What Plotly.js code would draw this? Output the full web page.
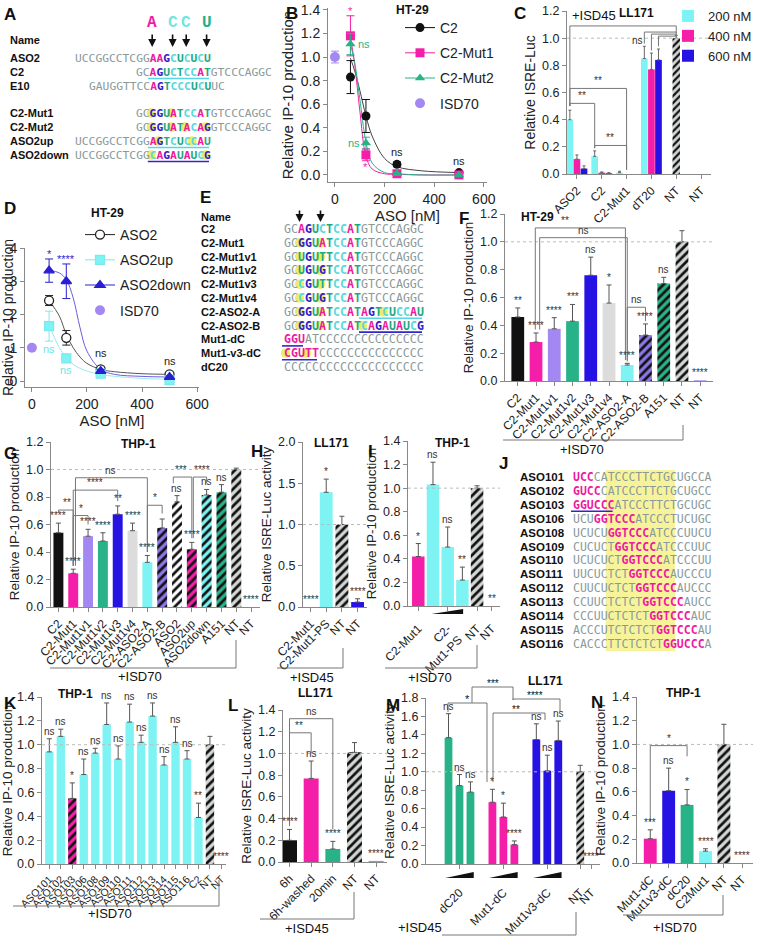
<!DOCTYPE html>
<html>
<head>
<meta charset="utf-8">
<script src="https://cdn.plot.ly/plotly-3.0.1.min.js"></script>
<style>body{margin:0;background:#fff}#fig{width:757px;height:937px}</style>
</head>
<body>
<div id="fig"></div>
<script>
const W = 757, H = 937

// ---------- data ----------
// B: HT-29, C2 / mutants dose response
const bDose = [62.5, 125, 250, 500]
const bC2 = [0.83, 0.50, 0.09, 0.02]
const bC2Err = [0.14, 0.14, 0.02, 0.01]
const bMut1 = [1.18, 0.17, 0.01, 0.0]
const bMut1Err = [0.17, 0.05, 0.01, 0.01]
const bMut2 = [1.11, 0.27, 0.01, 0.0]
const bMut2Err = [0.09, 0.05, 0.01, 0.01]
const bIsd = [1.0]
const bIsdErr = [0.05]
const bFitDose = [62.5, 80, 100, 125, 150, 200, 250, 350, 500]
const bFitC2 = [0.99, 0.88, 0.72, 0.50, 0.33, 0.14, 0.07, 0.035, 0.02]
const bFitMut1 = [1.17, 0.93, 0.55, 0.16, 0.05, 0.01, 0.005, 0, 0]
const bFitMut2 = [1.11, 0.95, 0.65, 0.28, 0.10, 0.02, 0.01, 0, 0]

// C: LL171 ISRE-Luc
const cCats = ['ASO2', 'C2', 'C2-Mut1', 'dT20', 'NT', 'NT']
const c200 = [0.40, 0.13, 0.01, 0.85, null, null]
const c200Err = [0.07, 0.04, 0.01, 0.09, 0, 0]
const c400 = [0.11, 0.01, 0.0, 0.77, null, null]
const c400Err = [0.03, 0.005, 0, 0.12, 0, 0]
const c600 = [0.04, 0.005, 0.0, 0.84, null, null]
const c600Err = [0.02, 0.005, 0, 0.08, 0, 0]
const cNT = [null, null, null, null, 1.0, 0.0]
const cNTErr = [0, 0, 0, 0, 0.02, 0]

// D: HT-29, ASO2 variants
const dDose = [62.5, 125, 250, 500]
const dAso2 = [2.42, 1.30, 0.35, 0.20]
const dAso2Err = [0.15, 0.22, 0.06, 0.03]
const dUp = [1.65, 0.68, 0.22, 0.03]
const dUpErr = [0.45, 0.12, 0.03, 0.02]
const dDown = [3.32, 3.0, 0.30, 0.12]
const dDownErr = [0.35, 0.52, 0.05, 0.03]
const dIsd = [1.0]
const dFitDose = [62.5, 100, 125, 150, 175, 200, 250, 300, 400, 500]
const dFitDown = [3.33, 3.25, 3.05, 2.5, 1.6, 0.9, 0.35, 0.2, 0.14, 0.12]
const dFitAso2 = [2.42, 1.95, 1.4, 1.0, 0.72, 0.53, 0.35, 0.28, 0.22, 0.20]
const dFitUp = [1.68, 1.0, 0.72, 0.5, 0.38, 0.3, 0.2, 0.14, 0.08, 0.05]

// F: HT-29 bars
const fCats = ['C2', 'C2-Mut1', 'C2-Mut1v1', 'C2-Mut1v2', 'C2-Mut1v3', 'C2-Mut1v4', 'C2-ASO2-A', 'C2-ASO2-B', 'A151', 'NT', 'NT']
const fVals = [0.46, 0.28, 0.375, 0.43, 0.76, 0.56, 0.115, 0.33, 0.70, 1.0, 0.005]
const fErr = [0.065, 0.065, 0.08, 0.12, 0.13, 0.13, 0.012, 0.08, 0.045, 0.08, 0]
const fSig = ['**', '****', '****', '***', 'ns', '*', '****', '****', 'ns', '', '****']

// G: THP-1 bars
const gCats = ['C2', 'C2-Mut1', 'C2-Mut1v1', 'C2-Mut1v2', 'C2-Mut1v3', 'C2-Mut1v4', 'C2-ASO2-A', 'C2-ASO2-B', 'ASO2', 'ASO2up', 'ASO2down', 'A151', 'NT', 'NT']
const gVals = [0.54, 0.245, 0.515, 0.48, 0.675, 0.555, 0.325, 0.575, 0.765, 0.42, 0.815, 0.835, 1.0, 0.0]
const gErr = [0.07, 0.03, 0.05, 0.06, 0.06, 0.055, 0.05, 0.065, 0.045, 0.05, 0.04, 0.055, 0.01, 0]
const gSig = ['****', '****', '****', '****', '**', '****', '****', '', 'ns', '****', 'ns', 'ns', '', '****']

// H: LL171
const hCats = ['C2-Mut1', 'C2-Mut1-PS', 'NT', 'NT']
const hVals = [0.0, 1.39, 1.0, 0.06]
const hErr = [0, 0.16, 0.1, 0.04]
const hSig = ['****', '*', '', '****']

// I: THP-1, C2-Mut1-PS dose
const iLabels = ['C2-Mut1', 'C2-<br>Mut1-PS', 'NT', 'NT']
const iVals = [0.42, 1.03, 0.50, 0.22, 1.0, 0.0]
const iErr = [0.11, 0.19, 0.17, 0.11, 0.02, 0]
const iSig = ['*', 'ns', 'ns', '**', '', '**']

// K: THP-1, ASO1xx walk
const kCats = ['ASO101', 'ASO102', 'ASO103', 'ASO106', 'ASO108', 'ASO109', 'ASO110', 'ASO111', 'ASO112', 'ASO113', 'ASO114', 'ASO115', 'ASO116', 'C2', 'NT', 'NT']
const kVals = [0.94, 1.07, 0.55, 0.75, 0.93, 1.17, 0.88, 1.19, 1.02, 1.24, 0.83, 1.02, 0.88, 0.39, 1.0, 0.0]
const kErr = [0.11, 0.06, 0.13, 0.13, 0.04, 0.18, 0.11, 0.15, 0.06, 0.11, 0.07, 0.13, 0.07, 0.12, 0.07, 0]
const kSig = ['ns', 'ns', '*', 'ns', 'ns', 'ns', 'ns', 'ns', 'ns', 'ns', 'ns', 'ns', 'ns', '**', '', '****']

// L: LL171 timing
const lCats = ['6h', '6h-washed', '20min', 'NT', 'NT']
const lVals = [0.20, 0.77, 0.12, 1.01, 0.01]
const lErr = [0.1, 0.16, 0.07, 0.09, 0]
const lSig = ['****', 'ns', '****', '', '****']

// M: LL171, three doses per ASO
const mGroups = ['dC20', 'Mut1-dC', 'Mut1v3-dC']
const mDC20 = [1.37, 0.85, 0.78]
const mDC20Err = [0.26, 0.12, 0.11]
const mMut1dC = [0.67, 0.51, 0.21]
const mMut1dCErr = [0.14, 0.15, 0.04]
const mV3dC = [1.35, 1.01, 1.34]
const mV3dCErr = [0.17, 0.17, 0.21]
const mNT = [1.0, 0.0]
const mNTErr = [0.07, 0]
const mSig = [['ns', 'ns', 'ns'], ['*', '*', '****'], ['ns', 'ns', 'ns']]
const mNTSig = ['', '****']

// N: THP-1
const nCats = ['Mut1-dC', 'Mut1v3-dC', 'dC20', 'C2Mut1', 'NT', 'NT']
const nVals = [0.205, 0.61, 0.49, 0.10, 1.0, 0.0]
const nErr = [0.075, 0.19, 0.13, 0.02, 0.17, 0]
const nSig = ['***', 'ns', '*', '****', '', '****']

// sequences
const aNames = ['ASO2', 'C2', 'E10', 'C2-Mut1', 'C2-Mut2', 'ASO2up', 'ASO2down']
const aSeqs = ['UCCGGCCTCGGAAGCUCUCU', 'GCAGUCTCCATGTCCCAGGC', 'GAUGGTTCCAGTCCCUCUUC', 'GCGGUATCCATGTCCCAGGC', 'GCGGUATACAGGTCCCAGGC', 'UCCGGCCTCGGAGTCUCCAU', 'UCCGGCCTCGGCAGAUAUCG']
const eNames = ['C2', 'C2-Mut1', 'C2-Mut1v1', 'C2-Mut1v2', 'C2-Mut1v3', 'C2-Mut1v4', 'C2-ASO2-A', 'C2-ASO2-B', 'Mut1-dC', 'Mut1-v3-dC', 'dC20']
const eSeqs = ['GCAGUCTCCATGTCCCAGGC', 'GCGGUATCCATGTCCCAGGC', 'GCUGUTTCCATGTCCCAGGC', 'GCUGUGTCCATGTCCCAGGC', 'GCCGUTTCCATGTCCCAGGC', 'GCCGUGTCCATGTCCCAGGC', 'GCGGUATCCATAGTCUCCAU', 'GCGGUATCCATCAGAUAUCG', 'GGUATCCCCCCCCCCCCCCC', 'CGUTTCCCCCCCCCCCCCCC', 'CCCCCCCCCCCCCCCCCCCC']
const jNames = ['ASO101', 'ASO102', 'ASO103', 'ASO106', 'ASO108', 'ASO109', 'ASO110', 'ASO111', 'ASO112', 'ASO113', 'ASO114', 'ASO115', 'ASO116']
const jSeqs = ['UCCCATCCCTTCTGCUGCCA', 'GUCCCATCCCTTCTGCUGCC', 'GGUCCCATCCCTTCTGCUGC', 'UCUGGTCCCATCCCTUCUGC', 'UCUCUGGTCCCATCCCUUCU', 'CUCUCTGGTCCCATCCCUUC', 'UCUCUCTGGTCCCATCCCUU', 'UUCUCTCTGGTCCCAUCCCU', 'CUUCUCTCTGGTCCCAUCCC', 'CCUUCTCTCTGGTCCCAUCC', 'CCCUUCTCTCTGGTCCCAUC', 'ACCCUTCTCTCTGGTCCCAU', 'CACCCTTCTCTCTGGUCCCA']
const jPink = [[0, 3], [0, 4], [0, 6], [3, 9], [5, 11], [6, 12], [7, 13], [8, 14], [9, 15], [10, 16], [11, 17], [12, 18], [13, 19]]

// ---------- styles ----------
const MAG = '#f41ea8', CYAN = '#7ef3f3', BLUE = '#2612e2', GREEN = '#28b288', LAV = '#a488f2'
const LGREY = '#dcdcdc', PURP = '#8c76e8', BLACK = '#111111', NTG = '#d3d7d4'
const SEQC = {g: '#8a9a9a', m: '#ef1a9f', b: '#3220c4', c: '#5ad8dc', t: '#1fa982'}
const FONT = 'Liberation Sans, Arial, sans-serif'
const MONO = 'DejaVu Sans Mono, monospace'

const traces = [], shapes = [], annotations = []
const px = x => x / W
const py = y => 1 - y / H
const xdom = (a, b) => [a / W, b / W]
const ydom = (top, bot) => [1 - bot / H, 1 - top / H]
const xn = n => n === 1 ? 'x' : 'x' + n
const yn = n => n === 1 ? 'y' : 'y' + n
const pathPx = pts => 'M' + pts.map(p => px(p[0]) + ',' + py(p[1])).join(' L')

function ptext(text, x, y, size, o) {
    annotations.push(Object.assign({xref: 'paper', yref: 'paper', x: px(x), y: py(y), text: text, showarrow: false,
        xanchor: 'left', yanchor: 'middle', font: {size: size, color: '#111', family: FONT}}, o || {}))
}
function letter(t, x, y) { ptext('<b>' + t + '</b>', x, y, 17, {yanchor: 'top'}) }
function title(t, x, y) { ptext('<b>' + t + '</b>', x, y, 12, {xanchor: 'center'}) }

function errBar(errs, color, width) {
    return {type: 'data', symmetric: false, array: errs.map(e => e > 0 ? e : NaN),
        arrayminus: errs.map(e => e > 0 ? 0 : NaN), color: color || '#555', thickness: 1, width: width || 2.5}
}

function sigLabel(n, x, y, s, size, color) {
    if (!s) return
    annotations.push({xref: xn(n), yref: yn(n), x: x, y: y, text: s, showarrow: false, yanchor: 'bottom',
        font: {size: size || 10, color: color || '#333', family: FONT}})
}

// plain bars in one trace, hatched bars one trace each (scalar colour keeps black stripes)
function bars(n, vals, errs, colors, hatch, sig, width) {
    const idx = vals.map((v, i) => i)
    traces.push({type: 'bar', xaxis: xn(n), yaxis: yn(n), x: idx, y: vals.map((v, i) => hatch[i] ? null : v),
        width: width, showlegend: false, marker: {color: colors, line: {width: 0}},
        error_y: errBar(errs.map((e, i) => hatch[i] ? 0 : e))})
    hatch.forEach((h, i) => {
        if (!h) return
        traces.push({type: 'bar', xaxis: xn(n), yaxis: yn(n), x: [i], y: [vals[i]], width: width, showlegend: false,
            marker: {color: colors[i], line: {width: 0},
                pattern: {shape: h, fgcolor: '#111', bgcolor: colors[i], size: 6, solidity: 0.45}},
            error_y: errBar([errs[i]])})
    })
    sig.forEach((s, i) => sigLabel(n, i, vals[i] + errs[i], s))
}

function bracket(n, x0, x1, y, y0, y1, label, lx) {
    shapes.push({type: 'path', xref: xn(n), yref: yn(n), path: `M${x0},${y0} V${y} H${x1} V${y1}`,
        line: {color: '#777', width: 1}})
    if (label) sigLabel(n, lx === undefined ? (x0 + x1) / 2 : lx, y, label)
}

function refLine(n) {
    shapes.push({type: 'line', xref: xn(n) + ' domain', yref: yn(n), x0: 0, x1: 1, y0: 1, y1: 1,
        line: {color: '#bbb', width: 1, dash: 'dot'}})
}

function isd(text, tx, ty, ly, x0, x1, vtop) {
    shapes.push({type: 'path', xref: 'paper', yref: 'paper', path: pathPx([[x0, ly], [x1, ly], [x1, vtop]]),
        line: {color: '#777', width: 1}})
    ptext(text, tx, ty, 13, {xanchor: 'center'})
}

const AX = {showline: true, linecolor: '#888', linewidth: 1, ticks: 'outside', ticklen: 4, tickwidth: 1,
    tickcolor: '#888', showgrid: false, zeroline: false, fixedrange: true}

function yaxis(n, top, bot, range, dtick, ttl, tsz, fsz, fmt) {
    return Object.assign({}, AX, {domain: ydom(top, bot), range: range, tick0: 0, dtick: dtick, anchor: xn(n),
        tickformat: fmt === undefined ? '.1f' : fmt, tickfont: {size: tsz, color: '#222'},
        title: {text: ttl, font: {size: fsz, color: '#222'}, standoff: 3}})
}
function catAxis(n, a, b, range, labels, tsz, vals, extra) {
    return Object.assign({}, AX, {domain: xdom(a, b), range: range, anchor: yn(n), tickmode: 'array',
        tickvals: vals || labels.map((c, i) => i), ticktext: labels, tickangle: -45,
        tickfont: {size: tsz, color: '#222'}}, extra || {})
}

function seqHtml(seq, col) {
    let out = '', i = 0
    while (i < seq.length) {
        let j = i
        while (j < seq.length && col[j] === col[i]) j++
        const t = seq.slice(i, j)
        out += `<span style="color:${SEQC[col[i]]}">${col[i] === 'g' ? t : '<b>' + t + '</b>'}</span>`
        i = j
    }
    return out
}
function seqRow(x0, cw, y, seq, col, hl, ul) {
    (hl || []).forEach(i => {
        const cx = x0 + (i + 0.5) * cw
        shapes.push({type: 'circle', xref: 'paper', yref: 'paper', layer: 'below',
            x0: px(cx - 4.6), x1: px(cx + 4.6), y0: py(y + 4.8), y1: py(y - 4.8),
            fillcolor: '#e9e94a', opacity: 0.85, line: {width: 0}})
    })
    if (ul) {
        shapes.push({type: 'line', xref: 'paper', yref: 'paper', x0: px(x0 + ul[1] * cw), x1: px(x0 + (ul[2] + 1) * cw),
            y0: py(y + 6.5), y1: py(y + 6.5), line: {color: ul[0] === 'b' ? '#3424cc' : '#55d6e6', width: 1.6}})
    }
    ptext(seqHtml(seq, col), x0, y, cw / 0.602, {font: {size: cw / 0.602, family: MONO, color: SEQC.g}})
}

// ---------- A ----------
letter('A', 2, 3)
ptext('<b>Name</b>', 8, 40, 11)
const aStart = [0, 9, 2, 9, 9, 0, 0]
const aRowY = [58, 72, 86, 113, 127, 141, 155]
const aCols = ['gggggggggggmmbctctct', 'ggmbtctccmtggggggggg', 'gggggggggmbtccctctgg', 'ggbbtmtccmtggggggggg',
    'ggbbtmtmcmbggggggggg', 'gggggggggggmbtctccmt', 'gggggggggggcmbmtmtcb']
const aHl = [[], [], [], [2, 5], [2, 5, 7, 10], [12, 17], [11, 19]]
const aUl = [null, ['c', 2, 10], null, null, null, ['c', 11, 19], ['b', 11, 19]]
const aX0 = 73, aCw = 6.8
aNames.forEach((nm, i) => {
    ptext('<b>' + nm + '</b>', 8, aRowY[i], 11)
    seqRow(aX0 + aStart[i] * aCw, aCw, aRowY[i], aSeqs[i], aCols[i], aHl[i], aUl[i])
})
const aTop = [['A', 11, 'm'], ['C', 14, 'c'], ['C', 16, 'c'], ['U', 19, 't']]
aTop.forEach(t => {
    const cx = aX0 + (t[1] + 0.5) * aCw + 1
    ptext('<b>' + t[0] + '</b>', cx, 23, 16, {xanchor: 'center', font: {size: 16, family: 'Liberation Mono, monospace', color: t[2] === 'm' ? '#f21aa6' : (t[2] === 'c' ? '#6ee6e6' : '#22b088')}})
    annotations.push({xref: 'paper', yref: 'paper', x: px(cx), y: py(47), ax: 0, ay: -14, text: '', showarrow: true,
        arrowhead: 2, arrowsize: 1, arrowwidth: 1.6, arrowcolor: '#111'})
})

// ---------- B ----------
letter('B', 284, 2)
title('HT-29', 412, 10)
const bSpec = [
    ['C2', bC2, bC2Err, bFitC2, BLACK, 'circle', '#444'],
    ['C2-Mut1', bMut1, bMut1Err, bFitMut1, MAG, 'square', MAG],
    ['C2-Mut2', bMut2, bMut2Err, bFitMut2, GREEN, 'triangle-up', GREEN]
]
bSpec.forEach(s => {
    traces.push({type: 'scatter', mode: 'lines', x: bFitDose, y: s[3], xaxis: 'x', yaxis: 'y', showlegend: false,
        line: {color: s[6], width: 1, shape: 'spline', smoothing: 1}})
})
bSpec.forEach(s => {
    traces.push({type: 'scatter', mode: 'markers', x: bDose, y: s[1], xaxis: 'x', yaxis: 'y', showlegend: false,
        marker: {color: s[4], symbol: s[5], size: 9},
        error_y: {type: 'data', array: s[2], color: s[4], thickness: 1, width: 4}})
    traces.push({type: 'scatter', mode: 'lines+markers', x: [null], y: [null], xaxis: 'x', yaxis: 'y', name: s[0],
        legend: 'legend', legendgroup: 'b' + s[0], marker: {color: s[4], symbol: s[5], size: 9}, line: {color: s[4], width: 1}})
})
traces.push({type: 'scatter', mode: 'markers', x: [0], y: bIsd, xaxis: 'x', yaxis: 'y', name: 'ISD70',
    legend: 'legend', legendgroup: 'bISD', marker: {color: LAV, size: 10},
    error_y: {type: 'data', array: bIsdErr, color: LAV, thickness: 1, width: 4}})
const bNote = (x, y, t, c, o) => annotations.push(Object.assign({xref: 'x', yref: 'y', x: x, y: y, text: t, showarrow: false,
    font: {size: 11, color: c, family: FONT}}, o))
bNote(bDose[0], bMut1[0] + bMut1Err[0], '*', MAG, {yanchor: 'bottom', yshift: -3})
bNote(bDose[0], bMut2[0], 'ns', GREEN, {xanchor: 'left', xshift: 6})
bNote(bDose[1], bMut2[1], 'ns', GREEN, {xanchor: 'right', xshift: -4})
bNote(bDose[1], bMut1[1] - bMut1Err[1], '*', MAG, {yanchor: 'top', yshift: 2})
bNote(bDose[2], bC2[2] + bC2Err[2], 'ns', '#222', {yanchor: 'bottom', yshift: 2})
bNote(bDose[3], bC2[3] + bC2Err[3], 'ns', '#222', {yanchor: 'bottom', yshift: 2})

// ---------- C ----------
letter('C', 512, 2)
title('LL171', 636, 13)
const cIdx = cCats.map((c, i) => i)
const cSpec = [['200 nM', c200, c200Err, CYAN, -0.42], ['400 nM', c400, c400Err, MAG, -0.135], ['600 nM', c600, c600Err, BLUE, 0.15]]
cSpec.forEach(s => {
    traces.push({type: 'bar', x: cIdx, y: s[1], xaxis: 'x2', yaxis: 'y2', name: s[0], legend: 'legend2',
        offset: s[4], width: 0.27, marker: {color: s[3], line: {width: 0}}, error_y: errBar(s[2], '#666', 1.5)})
})
traces.push({type: 'bar', x: cIdx, y: cNT, xaxis: 'x2', yaxis: 'y2', showlegend: false, offset: -0.15, width: 0.3,
    marker: {color: NTG, line: {width: 0}, pattern: {shape: '/', fgcolor: '#111', bgcolor: NTG, size: 5, solidity: 0.45}},
    error_y: errBar(cNTErr, '#666', 1.5)})
refLine(2)
bracket(2, -0.285, 2, 0.63, 0.5, 0.03, '**', 0.85)
bracket(2, -0.285, 0.715, 0.52, 0.5, 0.19, '**', 0.2)
bracket(2, 0.715, 2, 0.21, 0.19, 0.03, '**', 1.35)
bracket(2, 2.715, 4, 1.045, 0.96, 1.02)
bracket(2, 3.0, 4, 1.03, 0.91, 1.02)
bracket(2, 3.285, 4, 1.015, 0.94, 1.02)
sigLabel(2, 2.45, 0.93, 'ns')
shapes.push({type: 'path', xref: 'x2', yref: 'y2', path: 'M-0.285,0.5 V1.09 H4 V1.04', line: {color: '#777', width: 1}})
annotations.push({xref: 'x2', yref: 'y2', x: -0.27, y: 1.1, text: '+ISD45', showarrow: false, xanchor: 'left',
    yanchor: 'bottom', font: {size: 13, color: '#111', family: FONT}})

// ---------- D ----------
letter('D', 2, 197)
title('HT-29', 107, 213)
const dSpec = [
    ['ASO2', dAso2, dAso2Err, dFitAso2, 'white', 'circle', '#555', '#222'],
    ['ASO2up', dUp, dUpErr, dFitUp, CYAN, 'square', '#9be9ee', '#7fe8ec'],
    ['ASO2down', dDown, dDownErr, dFitDown, '#2a1fd0', 'triangle-up', '#6c5ce0', '#2a1fd0']
]
dSpec.forEach(s => {
    traces.push({type: 'scatter', mode: 'lines', x: dFitDose, y: s[3], xaxis: 'x3', yaxis: 'y3', showlegend: false,
        line: {color: s[6], width: 1, shape: 'spline', smoothing: 1}})
})
dSpec.forEach(s => {
    traces.push({type: 'scatter', mode: 'markers', x: dDose, y: s[1], xaxis: 'x3', yaxis: 'y3', showlegend: false,
        marker: {color: s[4], symbol: s[5], size: 9, line: {color: s[7], width: 1.3}},
        error_y: {type: 'data', array: s[2], color: s[7], thickness: 1, width: 4}})
    traces.push({type: 'scatter', mode: 'lines+markers', x: [null], y: [null], xaxis: 'x3', yaxis: 'y3', name: s[0],
        legend: 'legend3', legendgroup: 'd' + s[0], marker: {color: s[4], symbol: s[5], size: 9, line: {color: s[7], width: 1.3}},
        line: {color: s[7], width: 1}})
})
traces.push({type: 'scatter', mode: 'markers', x: [0], y: dIsd, xaxis: 'x3', yaxis: 'y3', name: 'ISD70',
    legend: 'legend3', legendgroup: 'dISD', marker: {color: LAV, size: 10}})
const dNote = (x, y, t, c, o) => annotations.push(Object.assign({xref: 'x3', yref: 'y3', x: x, y: y, text: t, showarrow: false,
    font: {size: 11, color: c, family: FONT}}, o))
dNote(dDose[0], dDown[0] + dDownErr[0], '*', '#2a1fd0', {yanchor: 'bottom', yshift: -3})
dNote(dDose[1], dDown[1] + dDownErr[1], '****', '#2a1fd0', {yanchor: 'bottom', yshift: -3})
dNote(dDose[0], dUp[0] - dUpErr[0], 'ns', '#6fe3ea', {yanchor: 'top'})
dNote(dDose[1], dUp[1] - dUpErr[1], 'ns', '#6fe3ea', {yanchor: 'top'})
dNote(dDose[2], dAso2[2] + dAso2Err[2], 'ns', '#222', {yanchor: 'bottom', yshift: 6})
dNote(dDose[3], dAso2[3] + dAso2Err[3], 'ns', '#222', {yanchor: 'bottom', yshift: 4})

// ---------- E ----------
letter('E', 198, 186)
ptext('<b>Name</b>', 199, 217, 11)
const eRowY = eNames.map((n, i) => 229 + i * 13.8)
const eCols = ['ggmbtctccmtggggggggg', 'ggbbtmtccmtggggggggg', 'ggtbtttccmtggggggggg', 'ggtbtbtccmtggggggggg',
    'ggcbtttccmtggggggggg', 'ggcbtbtccmtggggggggg', 'ggbbtmtccmtmbtctccmt', 'ggbbtmtccmtcmbmtmtcb',
    'mmmggggggggggggggggg', 'mmmmmggggggggggggggg', 'gggggggggggggggggggg']
const eHl = [[], [2, 5], [2, 5], [2, 5], [2, 5], [2, 5], [2, 5, 14], [2, 5, 11], [], [0, 3], []]
const eUl = [null, null, null, null, null, null, ['c', 11, 19], ['b', 11, 19], ['b', 0, 2], ['b', 0, 4], null]
const eX0 = 282, eCw = 7.0
eNames.forEach((nm, i) => {
    ptext('<b>' + nm + '</b>', 199, eRowY[i], 11)
    seqRow(eX0, eCw, eRowY[i], eSeqs[i], eCols[i], eHl[i], eUl[i])
})
;[2, 5].forEach(i => annotations.push({xref: 'paper', yref: 'paper', x: px(eX0 + (i + 0.5) * eCw), y: py(222), ax: 0, ay: -13,
    text: '', showarrow: true, arrowhead: 2, arrowsize: 1, arrowwidth: 1.6, arrowcolor: '#111'}))

// ---------- F ----------
letter('F', 457, 207)
title('HT-29', 537, 217)
bars(4, fVals, fErr, [BLACK, MAG, LAV, GREEN, BLUE, LGREY, CYAN, PURP, GREEN, NTG, LAV],
    ['', '', '', '', '', '', '', '/', '/', '/', ''], fSig, 0.7)
refLine(4)
bracket(4, 0.96, 5.9, 1.10, 0.37, 0.15, '**', 2.6)
bracket(4, 1.2, 6.0, 1.03, 0.37, 0.15, 'ns', 3.6)
bracket(4, 6, 7, 0.53, 0.14, 0.43, 'ns')
isd('+ISD70', 582, 449, 440, 503, 683, 425)

// ---------- G ----------
letter('G', 2, 442)
title('THP-1', 138, 444)
bars(5, gVals, gErr, [BLACK, MAG, LAV, GREEN, BLUE, LGREY, CYAN, PURP, 'white', MAG, CYAN, GREEN, NTG, LAV],
    ['', '', '', '', '', '', '', '/', '/', '/', '/', '/', '/', ''], gSig, 0.67)
refLine(5)
bracket(5, 0, 1, 0.705, 0.69, 0.3, '**', 0.55)
bracket(5, 1, 2, 0.665, 0.3, 0.6, '*', 1.5)
bracket(5, 1, 4, 0.85, 0.3, 0.77, '****', 2.5)
bracket(5, 1.15, 6, 0.94, 0.3, 0.4, 'ns', 3.5)
bracket(5, 6, 7, 0.74, 0.4, 0.68, '*', 6.5)
bracket(5, 7.75, 9, 0.945, 0.9, 0.5, '***', 8.3)
bracket(5, 9.1, 10, 0.945, 0.5, 0.9, '****', 9.7)
isd('+ISD70', 140, 676, 668, 50, 236, 640)

// ---------- H ----------
letter('H', 249, 440)
title('LL171', 331, 443)
bars(6, hVals, hErr, [CYAN, CYAN, NTG, BLUE], ['', '', '/', ''], hSig, 0.82)
refLine(6)
isd('+ISD45', 312, 677, 668, 277, 343, 648)

// ---------- I ----------
letter('I', 366, 440)
title('THP-1', 453, 443)
bars(7, iVals, iErr, [MAG, CYAN, CYAN, CYAN, NTG, LAV], ['', '', '', '', '/', ''], iSig, 0.85)
refLine(7)
shapes.push({type: 'path', xref: 'x7', yref: 'paper', path: `M0.9,${py(614)} L3.05,${py(614)} L3.05,${py(609)} Z`,
    fillcolor: '#111', line: {width: 0}})
isd('+ISD70', 430, 677, 668, 385, 477, 645)

// ---------- J ----------
letter('J', 497, 452)
const jX0 = 571, jCw = 6.93
shapes.push({type: 'rect', xref: 'paper', yref: 'paper', layer: 'below', x0: px(jX0 + 5 * jCw), x1: px(jX0 + 15 * jCw),
    y0: py(651), y1: py(470), fillcolor: '#f7f39a', line: {width: 0}})
jNames.forEach((nm, i) => {
    const y = 477 + i * 13.9
    ptext('<b>' + nm + '</b>', 518, y, 11.5)
    let col = ''
    for (let k = 0; k < 20; k++) col += (k >= jPink[i][0] && k < jPink[i][1]) ? 'm' : 'g'
    seqRow(jX0, jCw, y, jSeqs[i], col, [], i === 2 ? ['b', 0, 5] : null)
})

// ---------- K ----------
letter('K', 2, 692)
title('THP-1', 75, 694)
const kColors = kCats.map((c, i) => i === 2 ? MAG : (i === 14 ? NTG : (i === 15 ? LAV : CYAN)))
const kHatch = kCats.map((c, i) => (i === 2 || i === 14) ? '/' : '')
bars(8, kVals, kErr, kColors, kHatch, kSig, 0.73)
refLine(8)
isd('+ISD70', 110, 913, 906, 13, 219, 880)

// ---------- L ----------
letter('L', 226, 694)
title('LL171', 315, 693)
bars(9, lVals, lErr, [BLACK, MAG, GREEN, NTG, LAV], ['', '', '', '/', ''], lSig, 0.69)
refLine(9)
bracket(9, 0, 1, 1.19, 0.33, 1.0, '**', 0.45)
bracket(9, 0, 2, 1.32, 1.19, 0.3, 'ns', 1)
isd('+ISD45', 307, 928, 919, 260, 354, 892)

// ---------- M ----------
letter('M', 384, 694)
title('LL171', 545, 681)
const mVals = [mDC20, mMut1dC, mV3dC]
const mErrs = [mDC20Err, mMut1dCErr, mV3dCErr]
const mColors = [GREEN, MAG, BLUE]
mGroups.forEach((g, gi) => {
    const slots = mVals[gi].map((v, d) => gi * 4 + d)
    traces.push({type: 'bar', x: slots, y: mVals[gi], xaxis: 'x10', yaxis: 'y10', width: 0.71, showlegend: false,
        marker: {color: mColors[gi], line: {width: 0}}, error_y: errBar(mErrs[gi])})
    mSig[gi].forEach((s, d) => sigLabel(10, slots[d], mVals[gi][d] + mErrs[gi][d], s))
    shapes.push({type: 'path', xref: 'x10', yref: 'paper',
        path: `M${gi * 4 - 0.3},${py(878)} L${gi * 4 + 2.3},${py(878)} L${gi * 4 + 2.3},${py(872)} Z`,
        fillcolor: '#111', line: {width: 0}})
})
const mNTSlots = mNT.map((v, i) => 12 + i)
traces.push({type: 'bar', x: mNTSlots, y: mNT, xaxis: 'x10', yaxis: 'y10', width: 0.71, showlegend: false,
    marker: {color: NTG, line: {width: 0}, pattern: {shape: '/', fgcolor: '#111', bgcolor: NTG, size: 5, solidity: 0.45}},
    error_y: errBar(mNTErr)})
mNTSig.forEach((s, i) => sigLabel(10, mNTSlots[i], mNT[i] + mNTErr[i], s))
refLine(10)
shapes.push({type: 'path', xref: 'paper', yref: 'paper', path: pathPx([[448, 712], [448, 703], [487, 703], [487, 782]]), line: {color: '#777', width: 1}})
ptext('*', 467, 699, 11, {xanchor: 'center'})
shapes.push({type: 'path', xref: 'paper', yref: 'paper', path: pathPx([[472, 703], [472, 687], [513, 687], [513, 700]]), line: {color: '#777', width: 1}})
ptext('***', 493, 683, 10, {xanchor: 'center'})
shapes.push({type: 'path', xref: 'paper', yref: 'paper', path: pathPx([[513, 700], [513, 699], [560, 699], [560, 712]]), line: {color: '#777', width: 1}})
ptext('****', 535, 695, 10, {xanchor: 'center'})
shapes.push({type: 'path', xref: 'paper', yref: 'paper', path: pathPx([[493, 782], [493, 713], [545, 713], [545, 720]]), line: {color: '#777', width: 1}})
ptext('**', 516, 709, 10, {xanchor: 'center'})
isd('+ISD45', 420, 927, 935, 442, 576, 912)

// ---------- N ----------
letter('N', 589, 691)
title('THP-1', 683, 693)
bars(11, nVals, nErr, [MAG, BLUE, GREEN, CYAN, NTG, LAV], ['', '', '', '', '/', ''], nSig, 0.7)
refLine(11)
bracket(11, 0, 2, 0.99, 0.35, 0.9, '*', 1)
isd('+ISD70', 675, 927, 915, 623, 723, 895)

// ---------- layout ----------
const layout = {
    width: W, height: H, margin: {l: 0, r: 0, t: 0, b: 0}, paper_bgcolor: 'white', plot_bgcolor: 'rgba(0,0,0,0)',
    font: {family: FONT, color: '#222'}, showlegend: true, barmode: 'overlay', shapes: shapes, annotations: annotations,
    xaxis: Object.assign({}, AX, {domain: xdom(328, 487), range: [-28, 613], anchor: 'y', tickvals: [0, 200, 400, 600],
        tickfont: {size: 14}, title: {text: 'ASO [nM]', font: {size: 15}, standoff: 2}}),
    yaxis: yaxis(1, 8, 182, [-0.06, 1.416], 0.2, 'Relative IP-10 production', 14, 15),
    xaxis2: catAxis(2, 567, 711, [-0.4, 5.4], cCats, 12),
    yaxis2: yaxis(2, 11, 174, [0, 1.2], 0.2, 'Relative ISRE-Luc', 12.5, 14),
    xaxis3: Object.assign({}, AX, {domain: xdom(25, 199), range: [-25, 607], anchor: 'y3', tickvals: [0, 200, 400, 600],
        tickfont: {size: 14}, title: {text: 'ASO [nM]', font: {size: 15}, standoff: 2}}),
    yaxis3: yaxis(3, 248, 387, [-0.18, 4.0], 1, 'Relative IP-10 production', 14, 14, 'd'),
    xaxis4: catAxis(4, 505, 713, [-0.7, 10.7], fCats, 12),
    yaxis4: yaxis(4, 214, 381, [0, 1.2], 0.2, 'Relative IP-10 production', 12.5, 13.5),
    xaxis5: catAxis(5, 51, 260, [-0.5, 13.6], gCats, 12),
    yaxis5: yaxis(5, 442, 607, [0, 1.2], 0.2, 'Relative IP-10 production', 12.5, 13.5),
    xaxis6: catAxis(6, 303, 367, [-0.48, 3.6], hCats, 12),
    yaxis6: yaxis(6, 442, 607, [0, 2.0], 0.5, 'Relative ISRE-Luc activity', 12.5, 13.5),
    xaxis7: catAxis(7, 408, 500, [-0.7, 5.56], iLabels, 12, [0, 2, 4, 5], {ticklabelstandoff: 6}),
    yaxis7: yaxis(7, 441, 606, [0, 1.4], 0.2, 'Relative IP-10 production', 12.5, 13.5),
    xaxis8: catAxis(8, 42, 226, [-0.64, 15.4], kCats, 10.5),
    yaxis8: yaxis(8, 697, 864, [0, 1.4], 0.2, 'Relative IP-10 production', 12.5, 13.5),
    xaxis9: catAxis(9, 283, 387, [-0.3, 4.5], lCats, 12),
    yaxis9: yaxis(9, 710, 862, [0, 1.4], 0.2, 'Relative ISRE-Luc activity', 12.5, 13.5),
    xaxis10: catAxis(10, 426, 600, [-2.05, 13.8], mGroups.concat(['NT', 'NT']), 12, [1, 5, 9, 12, 13], {ticklabelstandoff: 12}),
    yaxis10: yaxis(10, 698, 864, [0, 1.8], 0.2, 'Relative ISRE-Luc activity', 12.5, 13.5),
    xaxis11: catAxis(11, 637, 753, [-0.72, 5.58], nCats, 12),
    yaxis11: yaxis(11, 697, 863, [0, 1.4], 0.2, 'Relative IP-10 production', 12.5, 13.5),
    legend: {x: px(400), y: py(12), xanchor: 'left', yanchor: 'top', bgcolor: 'rgba(0,0,0,0)', font: {size: 14, color: '#222'},
        tracegroupgap: 4, itemwidth: 30},
    legend2: {x: px(668), y: py(1), xanchor: 'left', yanchor: 'top', bgcolor: 'rgba(0,0,0,0)', font: {size: 13, color: '#222'},
        tracegroupgap: 6, traceorder: 'normal'},
    legend3: {x: px(80), y: py(219), xanchor: 'left', yanchor: 'top', bgcolor: 'rgba(0,0,0,0)', font: {size: 14, color: '#222'},
        tracegroupgap: 4, itemwidth: 30}
}

Plotly.newPlot('fig', traces, layout, {staticPlot: true})
</script>
</body>
</html>
